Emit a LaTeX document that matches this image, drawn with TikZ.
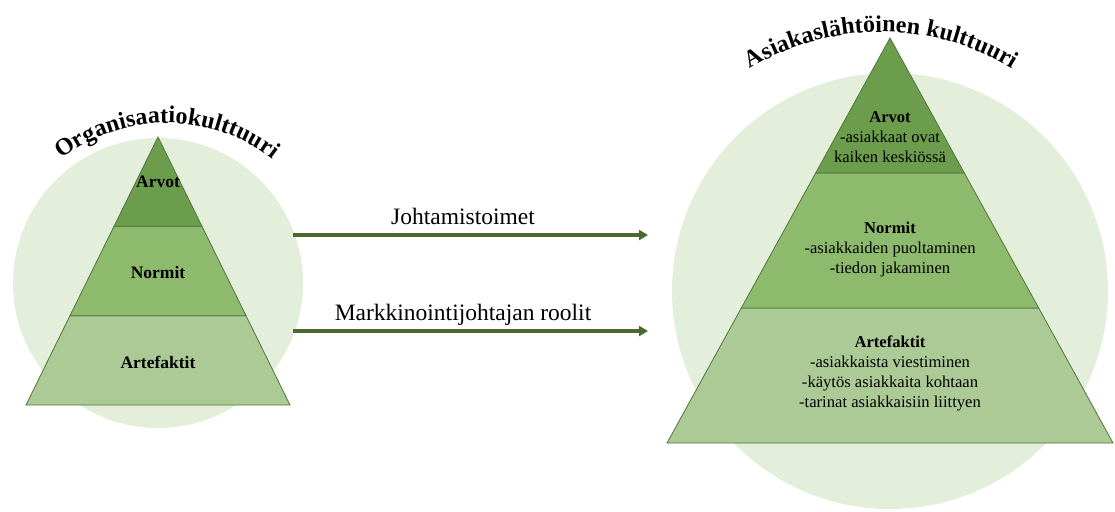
\documentclass[tikz,border=0pt]{standalone}
\usepackage{fontspec}
\setmainfont{Liberation Serif}
\usetikzlibrary{arrows.meta,calc,decorations.text}

\definecolor{halo}{HTML}{E3EFDA}
\definecolor{tiertop}{HTML}{6C9D4C}
\definecolor{tiermid}{HTML}{8DBA6D}
\definecolor{tierlow}{HTML}{ABCA96}
\definecolor{tieredge}{HTML}{52753A}
\definecolor{movegreen}{HTML}{4B6A2E}

\newcommand{\titlefont}{\fontsize{24}{27}\selectfont\bfseries}

\tikzset{
  tier/.style={draw=tieredge, line width=0.8pt, line join=miter},
  head/.style={font=\fontsize{17.5}{20}\selectfont\bfseries, align=center, inner sep=0pt},
  tiertext/.style={font=\fontsize{16.6}{20}\selectfont, align=center, inner sep=0pt},
  move/.style={draw=movegreen, line width=4pt, -{Triangle[length=9pt,width=10pt]}},
  movelabel/.style={font=\fontsize{23.5}{26}\selectfont, inner sep=0pt, anchor=base},
  arctitle/.style={decorate, decoration={text along path, text align=center, text={|\titlefont|#1}}}
}

\begin{document}
\begin{tikzpicture}[x=1pt,y=-1pt]
\useasboundingbox (0,0) rectangle (1115,511);

% background discs
\fill[halo] (158,283) circle[radius=145];
\fill[halo] (890,291) circle[radius=218];

% left pyramid: organisational culture
\coordinate (LA) at (158,137);
\coordinate (LL) at (26,405);
\coordinate (LR) at (290,405);
\filldraw[tier, fill=tierlow] ($(LA)!2/3!(LL)$) -- (LL) -- (LR) -- ($(LA)!2/3!(LR)$) -- cycle;
\filldraw[tier, fill=tiermid] ($(LA)!1/3!(LL)$) -- ($(LA)!2/3!(LL)$) -- ($(LA)!2/3!(LR)$) -- ($(LA)!1/3!(LR)$) -- cycle;
\filldraw[tier, fill=tiertop] (LA) -- ($(LA)!1/3!(LL)$) -- ($(LA)!1/3!(LR)$) -- cycle;

\node[head] (lArvot) at (158,182) {Arvot};
\node[head] (lNormit) at (158,273) {Normit};
\node[head] (lArtefaktit) at (158,362) {Artefaktit};

% right pyramid: customer-oriented culture
\coordinate (RA) at (890,38);
\coordinate (RL) at (667,443);
\coordinate (RR) at (1113,443);
\filldraw[tier, fill=tierlow] ($(RA)!2/3!(RL)$) -- (RL) -- (RR) -- ($(RA)!2/3!(RR)$) -- cycle;
\filldraw[tier, fill=tiermid] ($(RA)!1/3!(RL)$) -- ($(RA)!2/3!(RL)$) -- ($(RA)!2/3!(RR)$) -- ($(RA)!1/3!(RR)$) -- cycle;
\filldraw[tier, fill=tiertop] (RA) -- ($(RA)!1/3!(RL)$) -- ($(RA)!1/3!(RR)$) -- cycle;

\node[tiertext] (rArvot) at (890,137) {\textbf{Arvot}\\-asiakkaat ovat\\kaiken keskiössä};
\node[tiertext] (rNormit) at (890,250) {\textbf{Normit}\\-asiakkaiden puoltaminen\\-tiedon jakaminen};
\node[tiertext] (rArtefaktit) at (890,373) {\textbf{Artefaktit}\\-asiakkaista viestiminen\\-käytös asiakkaita kohtaan\\-tarinat asiakkaisiin liittyen};

% curved titles
\path[arctitle=Organisaatiokulttuuri] (167,295) ++(140:172pt) arc[start angle=140, end angle=40, radius=172pt];
\path[arctitle=Asiakaslähtöinen kulttuuri] (881,285) ++(130:253pt) arc[start angle=130, end angle=50, radius=253pt];

% transition arrows
\coordinate (j0) at (293,235);
\coordinate (j1) at (648,235);
\coordinate (m0) at (293,331);
\coordinate (m1) at (648,331);
\draw[move] (j0) -- (j1);
\draw[move] (m0) -- (m1);
\node[movelabel] (jlabel) at (463,224) {Johtamistoimet};
\node[movelabel] (mlabel) at (463,320) {Markkinointijohtajan roolit};
\end{tikzpicture}
\end{document}
